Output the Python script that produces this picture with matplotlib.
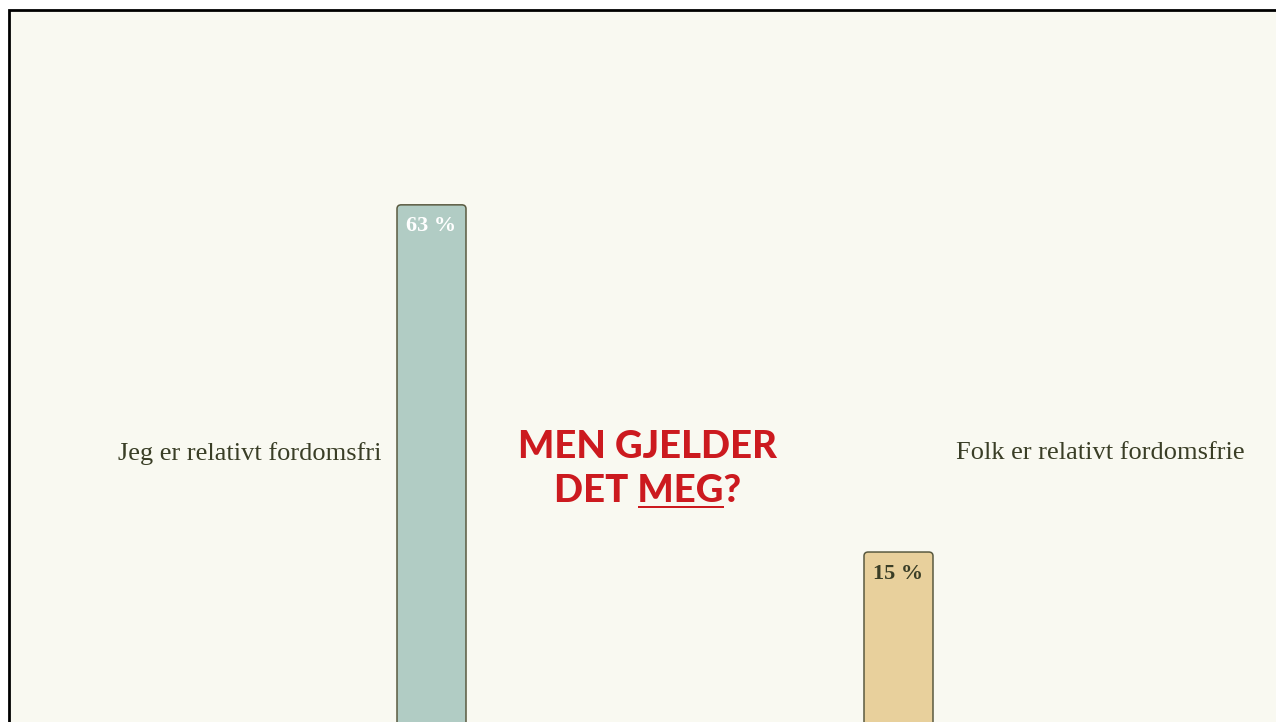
import matplotlib
matplotlib.use('Agg')
import matplotlib.pyplot as plt
from matplotlib.patches import FancyBboxPatch, Rectangle
import numpy as np

# chart data
categories = ['Jeg er relativt fordomsfri', 'Folk er relativt fordomsfrie']
values = [63, 15]
bar_labels = ['63 %', '15 %']
bar_colors = ['#b1ccc4', '#e8d09c']
label_colors = ['#ffffff', '#3a3e26']
title_lines = ['MEN GJELDER', 'DET MEG?']

W, H = 1276, 722
bg = '#f9f9f1'
ink = '#3a3e26'
red = '#cc1a1f'

fig = plt.figure(figsize=(W / 100, H / 100), dpi=100, facecolor='white')
ax = fig.add_axes([10 / W, 0, (W - 10) / W, 711 / H])
ax.set_facecolor(bg)
for s in ax.spines.values():
    s.set_visible(False)
ax.set_xticks([])
ax.set_yticks([])

# scales: bar centres at 431.5 px and 898.5 px, 7.23 px per percent
ax.set_xlim((10 - 431.5) / 467, (W - 431.5) / 467)
ax.set_ylim(-8.5, 89.8)

base = -30
x = np.arange(len(values))
bars = ax.bar(x, np.array(values) - base, bottom=base, width=69 / 467)
for b, c in zip(bars, bar_colors):
    b.set_visible(False)
    patch = FancyBboxPatch((b.get_x(), b.get_y()), b.get_width(), b.get_height(),
                           boxstyle='round,pad=0,rounding_size=0.009',
                           mutation_aspect=0.55 / 0.009,
                           facecolor=c, edgecolor='#5a5a40', linewidth=1.1)
    ax.add_patch(patch)

for i in range(len(values)):
    ax.annotate(bar_labels[i], xy=(x[i], values[i]), xytext=(0, -26.5),
                textcoords='offset pixels', ha='center', va='baseline',
                fontsize=16, fontweight='bold', family='Liberation Serif',
                color=label_colors[i])

# side labels
ax.annotate(categories[0], xy=(x[0], 0.378), xycoords=('data', 'axes fraction'),
            xytext=(-50.5, 0), textcoords='offset pixels', ha='right', va='center',
            fontsize=19, family='Liberation Serif', color=ink)
ax.annotate(categories[1], xy=(x[1], 0.378), xycoords=('data', 'axes fraction'),
            xytext=(57.5, 0), textcoords='offset pixels', ha='left', va='center',
            fontsize=19, family='Liberation Serif', color=ink)

# title in the middle
tx = (648 - 10) / (W - 10)
tkw = dict(ha='center', va='baseline', fontsize=27.5, fontweight='black',
           family='Lato', color=red, transform=ax.transAxes)
ax.text(tx, (H - 458) / 711, title_lines[0], **tkw)
t2 = ax.text(tx, (H - 502) / 711, title_lines[1], **tkw)

# underline "MEG"
fig.canvas.draw()
r = fig.canvas.get_renderer()
def width(s):
    t = ax.text(0, 0, s, **tkw)
    w = t.get_window_extent(r).width
    t.remove()
    return w
bb = t2.get_window_extent(r)
w_full = bb.width
x_start = bb.x0 + w_full - width('MEG?')
x_end = bb.x0 + w_full - width('?')
uy = H - 507
fig.add_artist(Rectangle((x_start / W, (uy - 1) / H), (x_end - x_start) / W, 2.2 / H,
                         transform=fig.transFigure, facecolor=red, edgecolor='none'))

# outer frame
fig.add_artist(Rectangle((9 / W, -0.05), 1.1, (H - 10) / H + 0.05,
                         transform=fig.transFigure, facecolor='none',
                         edgecolor='black', linewidth=2))

fig.savefig('out.png', dpi=100, facecolor='white')
